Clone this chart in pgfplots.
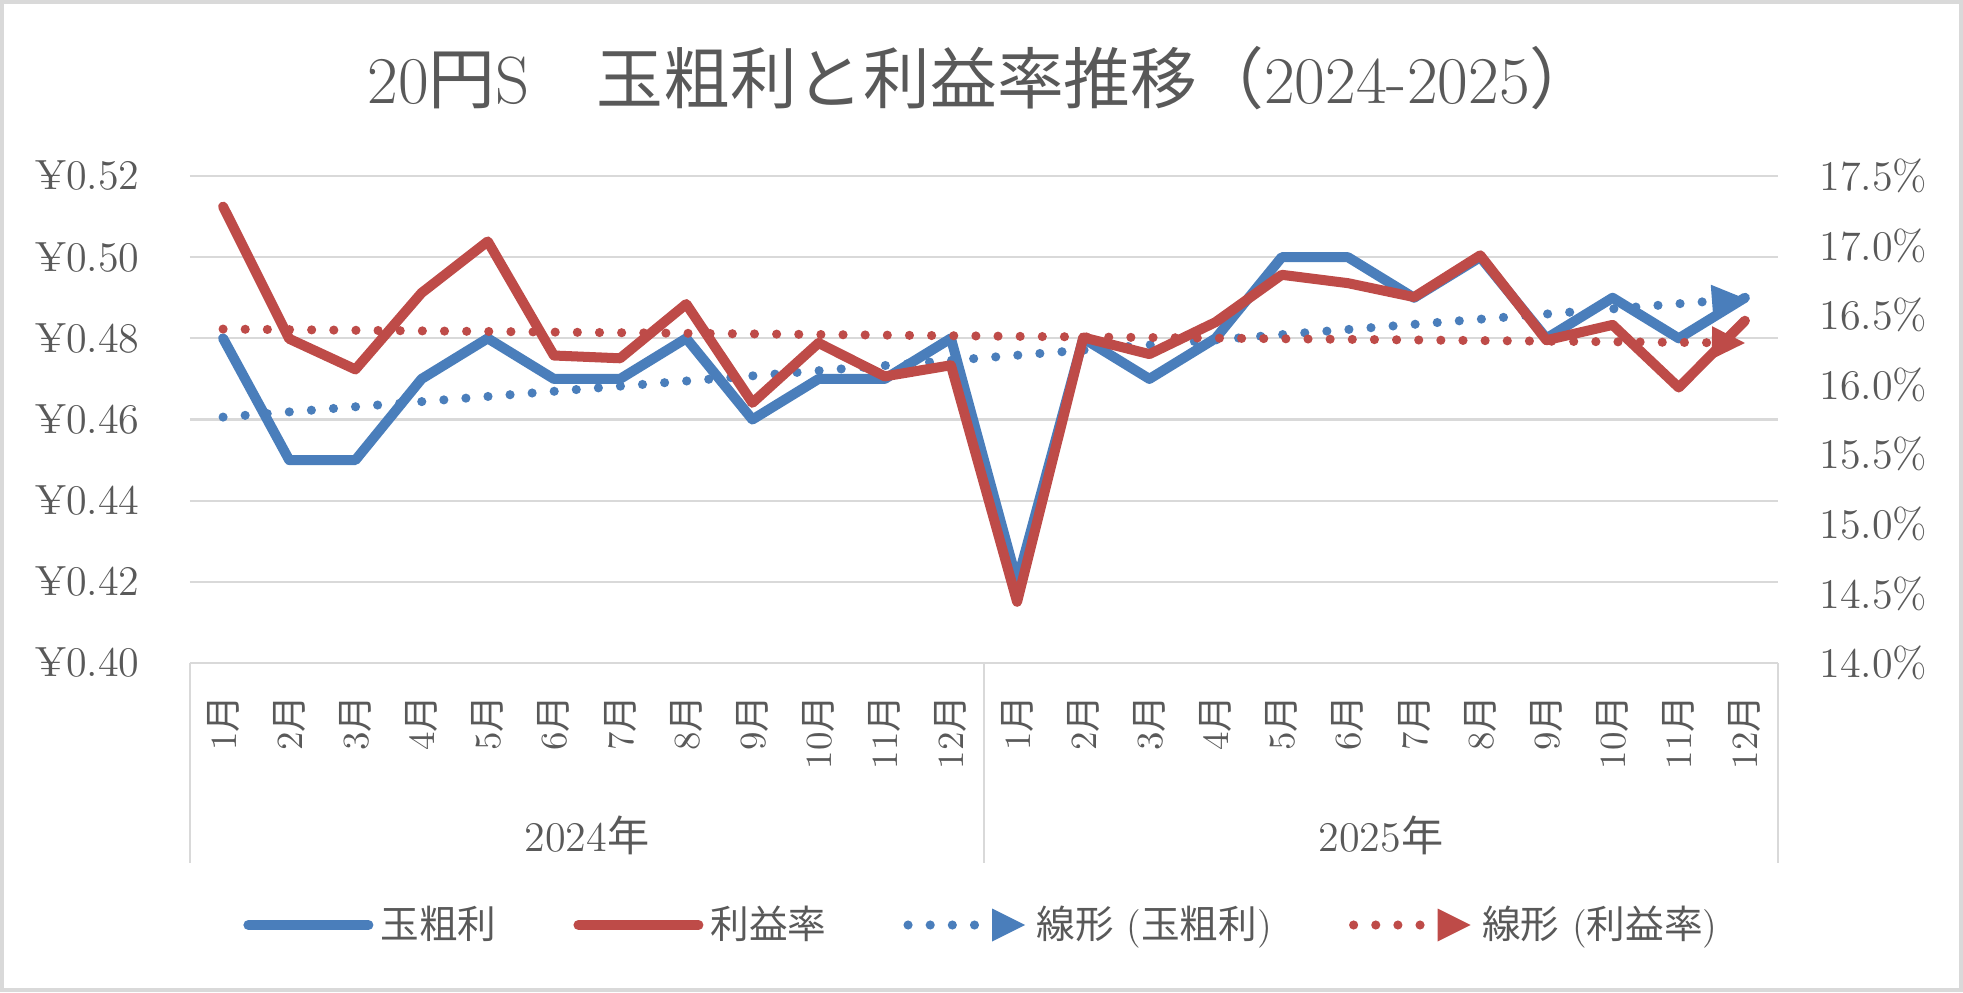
\documentclass[border=0pt]{standalone}
\usepackage{fontspec}
\usepackage{pgfplots}
\usepackage{pgfplotstable}
\pgfplotsset{compat=1.18}
\usetikzlibrary{arrows.meta}

\newfontfamily\jp{Noto Sans CJK JP}

\definecolor{gblue}{HTML}{4A7EBB}
\definecolor{gred}{HTML}{BE4B48}
\definecolor{txt}{HTML}{595959}
\definecolor{gridc}{HTML}{D9D9D9}

% x: month index (0 = 2024/1), g: gross per ball (yen), r: margin (%)
\pgfplotstableread{
x g r
0 0.48 17.28
1 0.45 16.33
2 0.45 16.11
3 0.47 16.66
4 0.48 17.03
5 0.47 16.21
6 0.47 16.19
7 0.48 16.58
8 0.46 15.87
9 0.47 16.30
10 0.47 16.06
11 0.48 16.14
12 0.42 14.44
13 0.48 16.34
14 0.47 16.22
15 0.48 16.45
16 0.50 16.79
17 0.50 16.73
18 0.49 16.63
19 0.50 16.93
20 0.48 16.32
21 0.49 16.43
22 0.48 15.98
23 0.49 16.46
}\datatable

\pgfplotsset{
  base/.style={
    scale only axis, width=15.88cm, height=4.87cm,
    at={(1.90cm,3.29cm)}, anchor=south west,
    xmin=-0.5, xmax=23.5,
    axis line style={draw=none},
    major tick length=0pt,
    clip=false,
    /pgf/number format/assume math mode=true,
  },
  solidline/.style={line width=2.85pt, line join=round, line cap=round,
    legend image code/.code={\draw (0cm,0cm) -- (1.2cm,0cm);}},
  trendline/.style={line width=2.6pt, line cap=round,
    dash pattern=on 0pt off 6.3pt,
    -{Triangle[length=3.3mm, width=3.3mm, line width=0pt]},
    legend image code/.code={\draw (0cm,0cm) -- (1.17cm,0cm);}},
}

\begin{document}
\begin{tikzpicture}
\useasboundingbox (0,0) rectangle (19.63,9.92);
\draw[gridc, line width=0.9pt] (0.02,0.02) rectangle (19.61,9.90);

\node[text=txt, font=\fontsize{19}{22}\selectfont] at (9.82,9.14)
  {20{\jp 円}S{\jp 　玉粗利と利益率推移（}2024-2025{\jp ）}};

\begin{axis}[base,
  ymin=0.40, ymax=0.52,
  ytick={0.40,0.42,0.44,0.46,0.48,0.50,0.52},
  yticklabel={¥\pgfmathprintnumber[fixed,fixed zerofill,precision=2]{\tick}},
  yticklabel style={text=txt, font=\fontsize{12}{14}\selectfont, xshift=-0.38cm},
  ymajorgrids, grid style={gridc, line width=0.6pt},
  xtick={0,...,23},
  xticklabels={1{\jp 月},2{\jp 月},3{\jp 月},4{\jp 月},5{\jp 月},6{\jp 月},
    7{\jp 月},8{\jp 月},9{\jp 月},10{\jp 月},11{\jp 月},12{\jp 月},
    1{\jp 月},2{\jp 月},3{\jp 月},4{\jp 月},5{\jp 月},6{\jp 月},
    7{\jp 月},8{\jp 月},9{\jp 月},10{\jp 月},11{\jp 月},12{\jp 月}},
  xticklabel style={text=txt, font=\fontsize{10.5}{12}\selectfont,
    rotate=90, anchor=east, inner xsep=9pt},
]
\addplot[solidline, gblue] table[x=x, y=g] {\datatable};
\addplot[trendline, gblue] coordinates {(0,0.4606) (23,0.4898)};

\draw[gridc, line width=0.6pt] (axis cs:-0.5,0.40) -- ([yshift=-2.0cm]axis cs:-0.5,0.40);
\draw[gridc, line width=0.6pt] (axis cs:11.5,0.40) -- ([yshift=-2.0cm]axis cs:11.5,0.40);
\draw[gridc, line width=0.6pt] (axis cs:23.5,0.40) -- ([yshift=-2.0cm]axis cs:23.5,0.40);
\node[text=txt, font=\fontsize{12}{14}\selectfont]
  at ([yshift=-1.72cm]axis cs:5.5,0.40) {2024{\jp 年}};
\node[text=txt, font=\fontsize{12}{14}\selectfont]
  at ([yshift=-1.72cm]axis cs:17.5,0.40) {2025{\jp 年}};
\end{axis}

\begin{axis}[base,
  ymin=14, ymax=17.5,
  ytick={14,14.5,15,15.5,16,16.5,17,17.5},
  yticklabel pos=right,
  yticklabel={\pgfmathprintnumber[fixed,fixed zerofill,precision=1]{\tick}\%},
  yticklabel style={text=txt, font=\fontsize{12}{14}\selectfont, xshift=0.29cm},
  xtick=\empty,
  legend columns=4,
  legend style={at={(0.5,-0.538)}, anchor=center, draw=none, fill=none,
    text=txt, font=\fontsize{11}{13}\selectfont,
    nodes={inner xsep=2pt},
    /tikz/every even column/.append style={column sep=0.7cm}},
]
\addlegendimage{solidline, gblue}
\addlegendentry{\jp 玉粗利}
\addplot[solidline, gred] table[x=x, y=r] {\datatable};
\addlegendentry{\jp 利益率}
\addlegendimage{trendline, gblue}
\addlegendentry{{\jp 線形} ({\jp 玉粗利})}
\addplot[trendline, gred] coordinates {(0,16.40) (23,16.30)};
\addlegendentry{{\jp 線形} ({\jp 利益率})}
\end{axis}
\end{tikzpicture}
\end{document}
